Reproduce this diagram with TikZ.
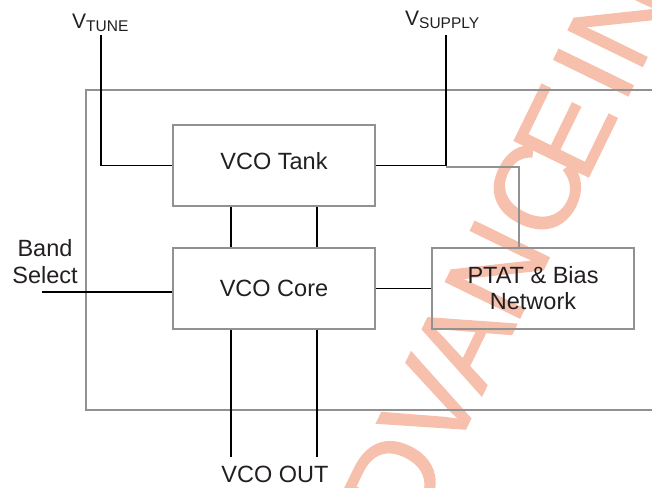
\documentclass[tikz,border=0pt]{standalone}
\usepackage{fontspec}
\setmainfont{Liberation Sans}
\newfontfamily\wmfont{Liberation Sans}[FakeBold=1.2]
\definecolor{boxgray}{RGB}{145,145,145}
\definecolor{txt}{RGB}{35,31,32}
\definecolor{wm}{RGB}{247,192,172}
\begin{document}
\begin{tikzpicture}[x=1pt,y=-1pt,
  box/.style={draw=boxgray, line width=1.2pt, minimum width=202pt, minimum height=81pt,
    inner sep=0pt, font=\fontsize{23.5}{26}\selectfont, text=txt, align=center},
  wire/.style={draw=black, line width=1.1pt},
  grayline/.style={draw=boxgray, line width=1.2pt},
  lbl/.style={inner sep=0pt, text=txt, font=\fontsize{23.5}{27}\selectfont, align=center},
  wmletter/.style={inner sep=0pt, anchor=base west, rotate=64, text=wm,
    font=\wmfont\fontsize{120}{120}\selectfont}]
\useasboundingbox (0,0) rectangle (652,487);
\begin{scope}
\clip (0,0) rectangle (652,487);
% watermark, letter by letter along a baseline at 64 degrees
\foreach \l/\s [count=\i] in {A/-207, D/-127, V/-40, A/31, N/108, C/197, E/265, I/354, N/388, FORMATION/475}
  \node[wmletter] (wm\i) at ({468+0.4384*(\s)},{424-0.8988*(\s)}) {\l};
% outer frame
\draw[grayline] (660,90) -| (86,410) -- (660,410);
\end{scope}
% blocks
\node[box, text depth=9pt] (tank) at (274,165.5) {VCO Tank};
\node[box] (core) at (274,288.5) {VCO Core};
\node[box] (ptat) at (533,288.5) {PTAT \& Bias\\Network};
% labels
\node[inner sep=0pt, anchor=base west, text=txt] (vt) at (72,29)
  {\fontsize{21}{21}\selectfont V\raisebox{-3pt}{\fontsize{15.5}{15.5}\selectfont TUNE}};
\node[inner sep=0pt, anchor=base west, text=txt] (vs) at (405,26)
  {\fontsize{21}{21}\selectfont V\raisebox{-3pt}{\fontsize{15.5}{15.5}\selectfont SUPPLY}};
\node[lbl] (band) at (45,262) {Band\\Select};
\node[lbl, anchor=base] (out) at (275,482) {VCO OUT};
% free ends
\coordinate (vtc) at (101,35);
\coordinate (vsc) at (446,35);
\coordinate (bsc) at (42,292);
\coordinate (gl) at (446,167);
\coordinate (o1) at (231,457);
\coordinate (o2) at (317,457);
% connectors
\draw[wire] (vtc) |- (tank.west);
\draw[wire] (vsc) |- (tank.east);
\draw[grayline] (gl) -| ([xshift=-14pt]ptat.north);
\draw[wire] ([xshift=-43pt]tank.south) -- ([xshift=-43pt]core.north);
\draw[wire] ([xshift=43pt]tank.south) -- ([xshift=43pt]core.north);
\draw[wire] ([xshift=-43pt]core.south) -- (o1);
\draw[wire] ([xshift=43pt]core.south) -- (o2);
\draw[wire, line width=2pt] (bsc) -- (core.west |- bsc);
\draw[wire] (core.east) -- (ptat.west);
\end{tikzpicture}
\end{document}
